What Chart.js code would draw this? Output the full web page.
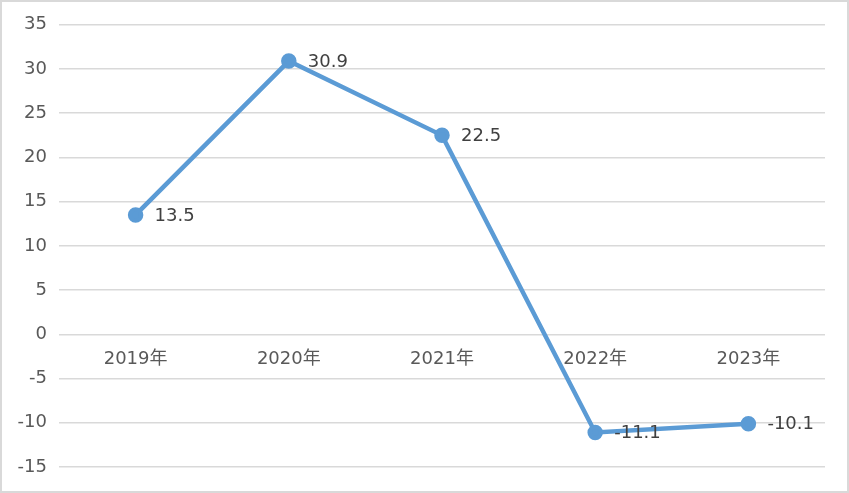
<!DOCTYPE html>
<html>
<head>
<meta charset="utf-8">
<script src="https://cdn.jsdelivr.net/npm/chart.js@4.4.1/dist/chart.umd.min.js"></script>
<style>
  html, body { margin: 0; padding: 0; background: #fff; }
  #wrap { width: 845px; height: 489px; border: 2px solid #d9d9d9; position: relative; }
</style>
</head>
<body>
<div id="wrap"><canvas id="lineChart"></canvas></div>
<script>
// 数据
const categories = ['2019年', '2020年', '2021年', '2022年', '2023年'];
const growthValues = [13.5, 30.9, 22.5, -11.1, -10.1];
const yMin = -15;
const yMax = 35;
const yStep = 5;

const FONT = '"DejaVu Sans", "Noto Sans CJK SC", sans-serif';

// 数据标签：点的右侧
const valueLabels = {
  id: 'valueLabels',
  afterDatasetsDraw(chart) {
    const ctx = chart.ctx;
    const meta = chart.getDatasetMeta(0);
    ctx.save();
    ctx.font = '18px ' + FONT;
    ctx.fillStyle = '#404040';
    ctx.textAlign = 'left';
    ctx.textBaseline = 'middle';
    meta.data.forEach((pt, i) => {
      ctx.fillText(String(growthValues[i]), pt.x + 19, pt.y + 1);
    });
    ctx.restore();
  }
};

const el = document.getElementById('lineChart');
new Chart(el, {
  type: 'line',
  data: {
    labels: categories,
    datasets: [{
      data: growthValues,
      borderColor: '#5B9BD5',
      backgroundColor: '#5B9BD5',
      pointBackgroundColor: '#5B9BD5',
      pointBorderColor: '#5B9BD5',
      borderWidth: 4.5,
      pointRadius: 5.5,
      tension: 0
    }]
  },
  options: {
    responsive: true,
    maintainAspectRatio: false,
    animation: false,
    layout: { padding: { left: 0, right: 22, top: 21, bottom: 24 } },
    scales: {
      x: {
        position: { y: 0 },
        offset: true,
        grid: { display: false, drawTicks: false },
        border: { display: false },
        ticks: { color: '#595959', font: { size: 18, family: FONT }, padding: 14, maxRotation: 0 }
      },
      y: {
        min: yMin,
        max: yMax,
        grid: { color: '#d9d9d9', lineWidth: 1.5, drawTicks: false },
        border: { display: false },
        ticks: { stepSize: yStep, color: '#595959', font: { size: 18, family: FONT }, padding: 12 },
        afterFit(scale) { scale.width = 57; }
      }
    },
    plugins: {
      legend: { display: false },
      tooltip: { enabled: false }
    }
  },
  plugins: [valueLabels]
});
</script>
</body>
</html>
